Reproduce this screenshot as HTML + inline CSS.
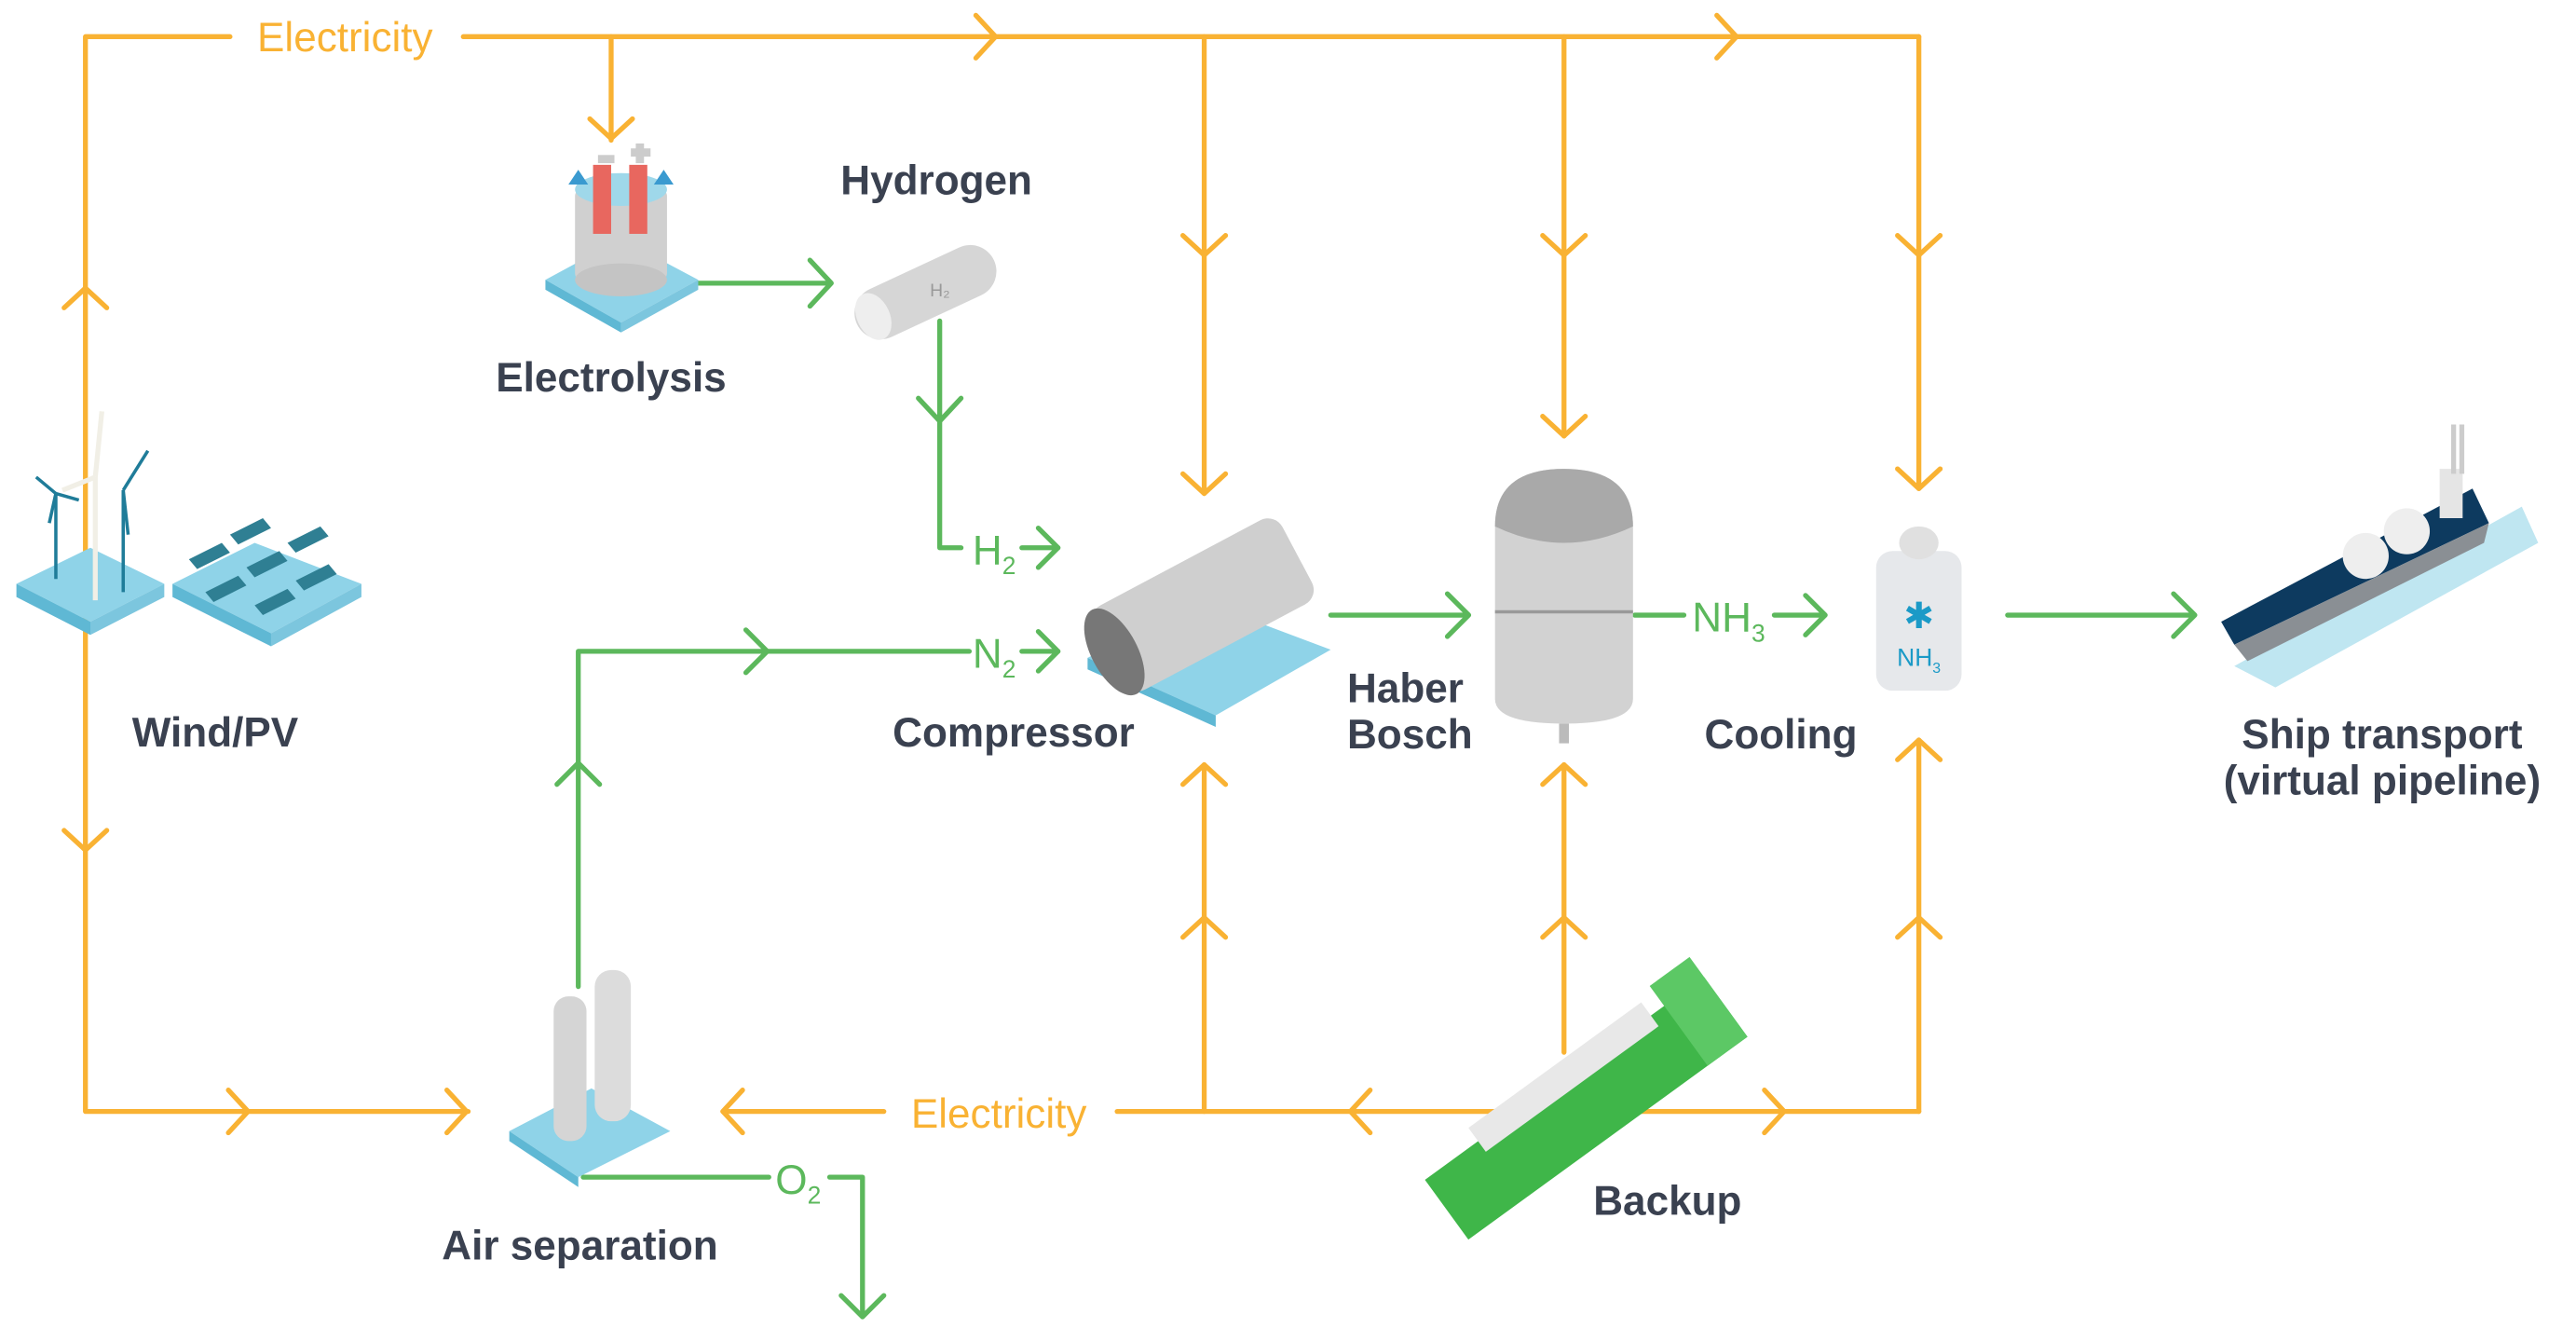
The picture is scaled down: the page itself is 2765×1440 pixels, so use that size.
<!DOCTYPE html>
<html><head><meta charset="utf-8"><style>
html,body{margin:0;padding:0;background:#fff;}
svg{display:block;}
text{font-family:"Liberation Sans",sans-serif;}
</style></head><body>
<svg width="2765" height="1440" viewBox="0 0 1568 816" xmlns="http://www.w3.org/2000/svg">
<rect width="1568" height="816" fill="#fff"/>
<g fill="none" stroke="#f9b233" stroke-width="3" stroke-linecap="round" stroke-linejoin="round">
  <!-- top -->
  <polyline points="140,22 52,22 52,676 285,676"/>
  <line x1="282" y1="22" x2="1168" y2="22"/>
  <polyline points="1168,22 1168,297"/>
  <line x1="372" y1="22" x2="372" y2="85"/>
  <line x1="733" y1="22" x2="733" y2="300"/>
  <line x1="952" y1="22" x2="952" y2="265"/>
  <!-- bottom -->
  <line x1="440" y1="676" x2="538" y2="676"/>
  <line x1="680" y1="676" x2="1168" y2="676"/>
  <line x1="1168" y1="676" x2="1168" y2="450"/>
  <line x1="733" y1="676" x2="733" y2="465"/>
  <line x1="952" y1="640" x2="952" y2="465"/>
  <!-- chevrons right -->
  <polyline points="594,9 606,22 594,35"/>
  <polyline points="1045,9 1057,22 1045,35"/>
  <polyline points="139,663 151,676 139,689"/>
  <polyline points="272,663 284,676 272,689"/>
  <polyline points="1074,663 1086,676 1074,689"/>
  <!-- chevrons left -->
  <polyline points="452,663 440,676 452,689"/>
  <polyline points="834,663 822,676 834,689"/>
  <!-- chevrons down -->
  <polyline points="359,72 372,84 385,72"/>
  <polyline points="720,143 733,155 746,143"/>
  <polyline points="720,288 733,300 746,288"/>
  <polyline points="939,143 952,155 965,143"/>
  <polyline points="939,253 952,265 965,253"/>
  <polyline points="1155,143 1168,155 1181,143"/>
  <polyline points="1155,285 1168,297 1181,285"/>
  <polyline points="39,505 52,517 65,505"/>
  <!-- chevrons up -->
  <polyline points="39,187 52,175 65,187"/>
  <polyline points="720,570 733,558 746,570"/>
  <polyline points="720,477 733,465 746,477"/>
  <polyline points="939,570 952,558 965,570"/>
  <polyline points="939,477 952,465 965,477"/>
  <polyline points="1155,570 1168,558 1181,570"/>
  <polyline points="1155,462 1168,450 1181,462"/>
</g>
<g fill="#f9b233" font-size="25">
  <text x="210" y="31" text-anchor="middle">Electricity</text>
  <text x="608" y="686" text-anchor="middle">Electricity</text>
</g>
<!-- green -->
<g fill="none" stroke="#5cb85c" stroke-width="3" stroke-linecap="round" stroke-linejoin="round">
  <line x1="425" y1="172" x2="505" y2="172"/>
  <polyline points="493,158 506,172 493,186"/>
  <polyline points="572,195 572,333 585,333"/>
  <polyline points="559,242 572,256 585,242"/>
  <line x1="622" y1="333" x2="644" y2="333"/>
  <polyline points="632,321 644,333 632,345"/>
  <polyline points="352,600 352,396 590,396"/>
  <polyline points="339,477 352,464 365,477"/>
  <polyline points="454,383 467,396 454,409"/>
  <line x1="622" y1="396" x2="644" y2="396"/>
  <polyline points="632,384 644,396 632,408"/>
  <line x1="810" y1="374" x2="893" y2="374"/>
  <polyline points="881,361 894,374 881,387"/>
  <line x1="995" y1="374" x2="1025" y2="374"/>
  <line x1="1080" y1="374" x2="1110" y2="374"/>
  <polyline points="1099,362 1111,374 1099,386"/>
  <line x1="1222" y1="374" x2="1335" y2="374"/>
  <polyline points="1323,361 1336,374 1323,387"/>
  <line x1="355" y1="716" x2="468" y2="716"/>
  <polyline points="505,716 525,716 525,800"/>
  <polyline points="512,788 525,801 538,788"/>
</g>
<g fill="#5cb85c" font-size="25">
  <text x="592" y="343">H<tspan font-size="15" dy="6">2</tspan></text>
  <text x="592" y="406">N<tspan font-size="15" dy="6">2</tspan></text>
  <text x="1030" y="384">NH<tspan font-size="15" dy="6">3</tspan></text>
  <text x="472" y="726">O<tspan font-size="15" dy="6">2</tspan></text>
</g>
<!-- labels -->
<g fill="#3a4150" font-size="25" font-weight="bold" text-anchor="middle">
  <text x="570" y="118">Hydrogen</text>
  <text x="372" y="238">Electrolysis</text>
  <text x="131" y="454">Wind/PV</text>
  <text x="617" y="454">Compressor</text>
  <text x="820" y="427" text-anchor="start">Haber</text>
  <text x="820" y="455" text-anchor="start">Bosch</text>
  <text x="1084" y="455">Cooling</text>
  <text x="1450" y="455">Ship transport</text>
  <text x="1450" y="483">(virtual pipeline)</text>
  <text x="1015" y="739">Backup</text>
  <text x="353" y="766">Air separation</text>
</g>
<!-- icons -->
<!-- electrolysis -->
<polygon points="332,170 378,145 425,170 378,196" fill="#8fd3e8"/>
<polygon points="332,170 378,196 378,202 332,176" fill="#5fb8d4"/>
<polygon points="425,170 378,196 378,202 425,176" fill="#7cc6de"/>
<rect x="350" y="115" width="56" height="55" rx="4" fill="#d0d0d0"/>
<ellipse cx="378" cy="170" rx="28" ry="10" fill="#c4c4c4"/>
<ellipse cx="378" cy="115" rx="28" ry="10" fill="#9fd8ea"/>
<rect x="361" y="100" width="11" height="42" fill="#e8675f"/>
<rect x="383" y="100" width="11" height="42" fill="#e8675f"/>
<polygon points="346,112 352,103 358,112" fill="#3a9ad0"/>
<polygon points="398,112 404,103 410,112" fill="#3a9ad0"/>
<rect x="364" y="94" width="10" height="5" fill="#ccc"/>
<rect x="384" y="90" width="12" height="5" fill="#ccc"/><rect x="387" y="87" width="5" height="12" fill="#ccc"/>
<!-- hydrogen tank -->
<g transform="rotate(-25 562 177)">
  <rect x="517" y="162" width="92" height="32" rx="16" fill="#d6d6d6"/>
  <ellipse cx="528" cy="178" rx="10" ry="15" fill="#eee"/>
</g>
<text x="566" y="180" font-size="11" fill="#999">H₂</text>
<!-- wind/pv -->
<polygon points="10,355 55,333 100,355 55,378" fill="#8fd3e8"/>
<polygon points="10,355 55,378 55,386 10,363" fill="#5fb8d4"/>
<polygon points="100,355 55,378 55,386 100,363" fill="#7cc6de"/>
<polygon points="105,355 155,330 220,355 165,385" fill="#8fd3e8"/>
<polygon points="105,355 165,385 165,393 105,363" fill="#5fb8d4"/>
<polygon points="220,355 165,385 165,393 220,363" fill="#7cc6de"/>
<g stroke="#1f7c99" stroke-width="2">
  <line x1="34" y1="352" x2="34" y2="300"/><line x1="75" y1="360" x2="75" y2="298"/>
  <line x1="34" y1="300" x2="22" y2="290"/><line x1="34" y1="300" x2="48" y2="304"/><line x1="34" y1="300" x2="30" y2="318"/>
  <line x1="75" y1="298" x2="90" y2="274"/><line x1="75" y1="298" x2="78" y2="325"/>
</g>
<g stroke="#f1efe6" stroke-width="3"><line x1="58" y1="365" x2="58" y2="290"/><line x1="58" y1="290" x2="62" y2="250"/><line x1="58" y1="290" x2="38" y2="298"/></g>
<g fill="#2f7f93">
  <polygon points="115,340 135,330 140,336 120,346"/><polygon points="140,325 160,315 165,321 145,331"/>
  <polygon points="125,360 145,350 150,356 130,366"/><polygon points="150,345 170,335 175,341 155,351"/>
  <polygon points="175,330 195,320 200,326 180,336"/><polygon points="155,368 175,358 180,364 160,374"/>
  <polygon points="180,353 200,343 205,349 185,359"/>
</g>
<!-- compressor -->
<polygon points="662,400 730,365 810,395 740,435" fill="#8fd3e8"/>
<polygon points="662,400 740,435 740,442 662,407" fill="#5fb8d4"/>
<g transform="rotate(-28 730 370)">
  <rect x="668" y="340" width="130" height="58" rx="10" fill="#cfcfcf"/>
  <ellipse cx="672" cy="369" rx="14" ry="29" fill="#777"/>
</g>
<!-- haber bosch -->
<path d="M910,320 Q910,285 952,285 Q994,285 994,320 L994,425 Q994,440 952,440 Q910,440 910,425 Z" fill="#d2d2d2"/>
<path d="M910,320 Q910,285 952,285 Q994,285 994,320 Q952,340 910,320Z" fill="#a9a9a9"/>
<line x1="910" y1="372" x2="994" y2="372" stroke="#999" stroke-width="2"/>
<rect x="949" y="440" width="6" height="12" fill="#bbb"/>
<!-- cooling -->
<rect x="1142" y="335" width="52" height="85" rx="10" fill="#e6e8eb"/>
<ellipse cx="1168" cy="330" rx="12" ry="10" fill="#e0e0e0"/>
<text x="1168" y="382" font-size="22" fill="#1b9ac7" text-anchor="middle">✱</text>
<text x="1168" y="405" font-size="15" fill="#1b9ac7" text-anchor="middle">NH<tspan font-size="9" dy="4">3</tspan></text>
<!-- ship -->
<polygon points="1360,405 1535,308 1545,330 1385,418" fill="#bfe6f1"/>
<polygon points="1352,378 1505,297 1515,318 1360,392" fill="#0d3a5f"/>
<polygon points="1360,392 1515,318 1512,330 1368,402" fill="#8a8f94"/>
<circle cx="1440" cy="338" r="14" fill="#eee"/><circle cx="1465" cy="323" r="14" fill="#eee"/>
<rect x="1485" y="285" width="14" height="30" fill="#e5e5e5"/>
<rect x="1492" y="258" width="3" height="30" fill="#ccc"/><rect x="1497" y="258" width="3" height="30" fill="#ccc"/>
<!-- air separation -->
<polygon points="310,688 360,662 408,688 352,716" fill="#8fd3e8"/>
<polygon points="310,688 352,716 352,722 310,694" fill="#5fb8d4"/>
<rect x="337" y="606" width="20" height="88" rx="9" fill="#d5d5d5"/>
<rect x="362" y="590" width="22" height="92" rx="10" fill="#dcdcdc"/>
<!-- backup -->
<g transform="rotate(-36 960 675)">
  <rect x="860" y="655" width="210" height="45" fill="#3fb649"/>
  <rect x="900" y="645" width="130" height="18" fill="#e8e8e8"/>
  <rect x="1040" y="640" width="30" height="60" fill="#5cc865"/>
</g>
</svg>
</body></html>
